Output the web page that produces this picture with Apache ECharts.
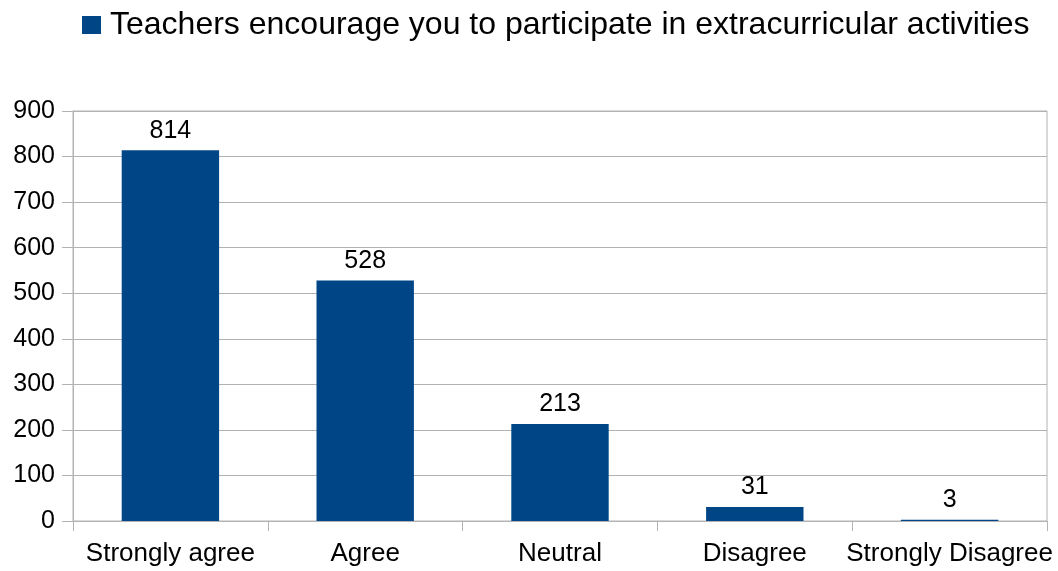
<!DOCTYPE html>
<html><head><meta charset="utf-8">
<script src="https://cdn.jsdelivr.net/npm/echarts@6/dist/echarts.min.js"></script>
<style>html,body{margin:0;padding:0;background:#fff}#c{width:1058px;height:571px}</style>
</head><body><div id="c"></div>
<script>
const categories = ['Strongly agree', 'Agree', 'Neutral', 'Disagree', 'Strongly Disagree'];
const values = [814, 528, 213, 31, 3];
const seriesName = 'Teachers encourage you to participate in extracurricular activities';
const chart = echarts.init(document.getElementById('c'), null, {renderer: 'canvas'});
const font = '"Liberation Sans", Arial, sans-serif';
chart.setOption({
  animation: false,
  textStyle: {fontFamily: font},
  legend: {
    data: [{name: seriesName, icon: 'rect'}], top: 4, left: 77,
    itemWidth: 19, itemHeight: 18, itemGap: 6,
    textStyle: {fontSize: 32, color: '#000', fontFamily: font, padding: [0, 0, 0, 4]}
  },
  grid: {left: 73, right: 11, top: 111, bottom: 50, show: true, borderColor: '#b3b3b3', borderWidth: 1},
  xAxis: {
    type: 'category', data: categories,
    axisLine: {lineStyle: {color: '#b3b3b3'}},
    axisTick: {show: true, length: 10, lineStyle: {color: '#b3b3b3'}},
    axisLabel: {fontSize: 26, color: '#000', margin: 20, fontFamily: font, interval: 0}
  },
  yAxis: {
    type: 'value', min: 0, max: 900, interval: 100,
    axisLine: {show: true, lineStyle: {color: '#b3b3b3'}},
    axisTick: {show: true, length: 11, lineStyle: {color: '#b3b3b3'}},
    splitLine: {lineStyle: {color: '#b3b3b3'}},
    axisLabel: {fontSize: 25, color: '#000', margin: 18, fontFamily: font}
  },
  series: [{
    name: seriesName, type: 'bar', data: values, barWidth: '50%',
    itemStyle: {color: '#004586'},
    label: {show: true, position: 'top', distance: 7, fontSize: 25, color: '#000', fontFamily: font}
  }]
});
</script></body></html>
